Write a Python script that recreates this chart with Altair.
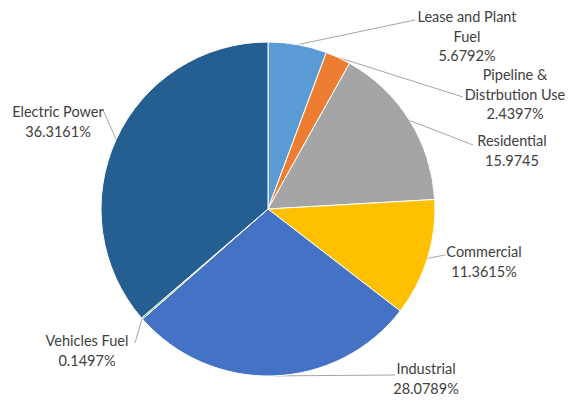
import math
import altair as alt
import pandas as pd

categories = ["Lease and Plant Fuel", "Pipeline & Distrbution Use", "Residential",
              "Commercial", "Industrial", "Vehicles Fuel", "Electric Power"]
values = [5.6792, 2.4397, 15.9745, 11.3615, 28.0789, 0.1497, 36.3161]
label_texts = ["Lease and Plant\nFuel\n5.6792%", "Pipeline &\nDistrbution Use\n2.4397%",
               "Residential\n15.9745", "Commercial\n11.3615%", "Industrial\n28.0789%",
               "Vehicles Fuel\n0.1497%", "Electric Power\n36.3161%"]
colors = ["#5B9BD5", "#ED7D31", "#A5A5A5", "#FFC000", "#4472C4", "#70AD47", "#255E91"]

# layout (chart pixel coordinates): first-line centre of each label, leader end point
W, H = 558, 387
CX, CY, R = 260, 201, 167
label_pos = [(459, 10), (507, 68), (504, 134), (476, 245), (418, 362), (79, 334), (50, 105)]
leader_end = [(407, 12), (455, 89), (465, 137), (437, 247), (387, 367), (127, 335), (95, 102)]

total = sum(values)
pie_df = pd.DataFrame({"idx": list(range(len(categories))), "category": categories, "value": values})

# leader start points: slice edge at mid-angle (derived from the data)
starts = []
cum = 0.0
for v in values:
    mid = (cum + v / 2) / total * 2 * math.pi
    starts.append((CX + R * math.sin(mid), CY - R * math.cos(mid)))
    cum += v

lines_df = pd.DataFrame({
    "x": [s[0] for s in starts], "y": [s[1] for s in starts],
    "x2": [e[0] for e in leader_end], "y2": [e[1] for e in leader_end],
})
labels_df = pd.DataFrame({
    "x": [p[0] for p in label_pos], "y": [p[1] for p in label_pos], "text": label_texts,
})

xs = alt.Scale(domain=[0, W], range=[0, W])
ys = alt.Scale(domain=[0, H], range=[0, H])

pie = alt.Chart(pie_df).mark_arc(stroke="white", strokeWidth=1, outerRadius=R).encode(
    theta=alt.Theta("value:Q", stack=True),
    color=alt.Color("category:N", scale=alt.Scale(domain=categories, range=colors), legend=None),
    order=alt.Order("idx:Q"),
    x=alt.value(CX), y=alt.value(CY),
)

leaders = alt.Chart(lines_df).mark_rule(color="#A6A6A6", strokeWidth=1).encode(
    x=alt.X("x:Q", scale=xs, axis=None), y=alt.Y("y:Q", scale=ys, axis=None),
    x2="x2:Q", y2="y2:Q",
)

labels = alt.Chart(labels_df).mark_text(
    font="Lato", fontSize=14.5, color="#404040", lineBreak="\n", lineHeight=19.5,
    align="center", baseline="middle",
).encode(
    x=alt.X("x:Q", scale=xs, axis=None), y=alt.Y("y:Q", scale=ys, axis=None), text="text:N",
)

chart = alt.layer(leaders, pie, labels).properties(
    width=W, height=H, autosize="none", padding=0,
).configure_view(stroke=None)

chart.save("out.html", embed_options={"renderer": "svg", "actions": False})
